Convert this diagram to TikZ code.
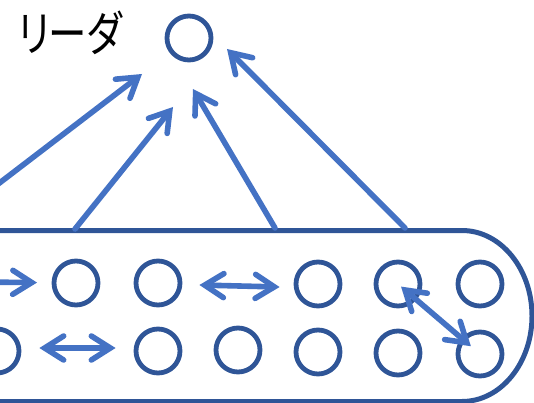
\documentclass[tikz,border=0pt]{standalone}
\usepackage{fontspec}
\newfontfamily\jpfont{Noto Sans CJK JP}[RawFeature=+palt]
\usetikzlibrary{arrows.meta}
\definecolor{ringc}{HTML}{2F5597}
\definecolor{arrc}{HTML}{4472C4}
\tikzset{
  barb/.tip={Straight Barb[length=19pt,width=24pt,line cap=round,line join=miter]},
  ring/.style={circle, draw=ringc, line width=4.8pt, minimum size=44pt, inner sep=0pt},
  conn/.style={draw=arrc, line width=5.6pt, line cap=round},
  headtip/.style={-barb},
  bothtip/.style={barb-barb},
  band/.style={draw=ringc, line width=5pt},
  label/.style={font=\jpfont\fontsize{48}{48}\selectfont, inner sep=0pt, xscale=0.8}
}
\begin{document}
\begin{tikzpicture}[x=1pt,y=-1pt]
\useasboundingbox (0,0) rectangle (534,403);
% group band
\draw[band] (-20,230.5) -- (462,230.5)
  .. controls (500.7,230.5) and (532,268.8) .. (532,316)
  .. controls (532,363.2) and (500.7,401.5) .. (462,401.5) -- (-20,401.5);
% leader
\node[label] (lbl) at (70,33) {リーダ};
\node[ring] (L) at (189,38) {};
% members row 1
\node[ring] (a1) at (76,283) {};
\node[ring] (a2) at (158,283) {};
\node[ring] (a4) at (318,284) {};
\node[ring] (a5) at (398,284) {};
\node[ring] (a6) at (480,284) {};
% members row 2
\node[ring] (b0) at (-3,351) {};
\node[ring] (b2) at (158,351) {};
\node[ring] (b3) at (238,350) {};
\node[ring] (b4) at (318,352) {};
\node[ring] (b5) at (398,353) {};
\node[ring] (b6) at (480,354) {};
% free ends
\coordinate (s1) at (-62,230);
\coordinate (t1) at (142,74);
\coordinate (s2) at (75,229);
\coordinate (t2) at (173,107);
\coordinate (s3) at (275,228);
\coordinate (t3) at (193,89);
\coordinate (s4) at (405,228);
\coordinate (t4) at (227,49);
\coordinate (s0) at (-20,282);
% arrows to leader
\draw[conn,headtip] (s1) -- (t1);
\draw[conn,headtip] (s2) -- (t2);
\draw[conn,headtip] (s3) -- (t3);
\draw[conn,headtip] (s4) -- (t4);
% member arrows
\draw[conn,headtip, shorten >=39pt] (s0) -- (a1.center);
\draw[conn,bothtip] ([xshift=17pt,yshift=-2pt]a2.east) -- ([xshift=-14pt,yshift=-3pt]a4.west);
\draw[conn,bothtip] ([xshift=18pt,yshift=3pt]b0.east) -- ([xshift=-18pt,yshift=3pt]b2.west);
\draw[conn,bothtip, shorten <=4pt, shorten >=12pt] (a5.center) -- (b6.center);
\end{tikzpicture}
\end{document}
